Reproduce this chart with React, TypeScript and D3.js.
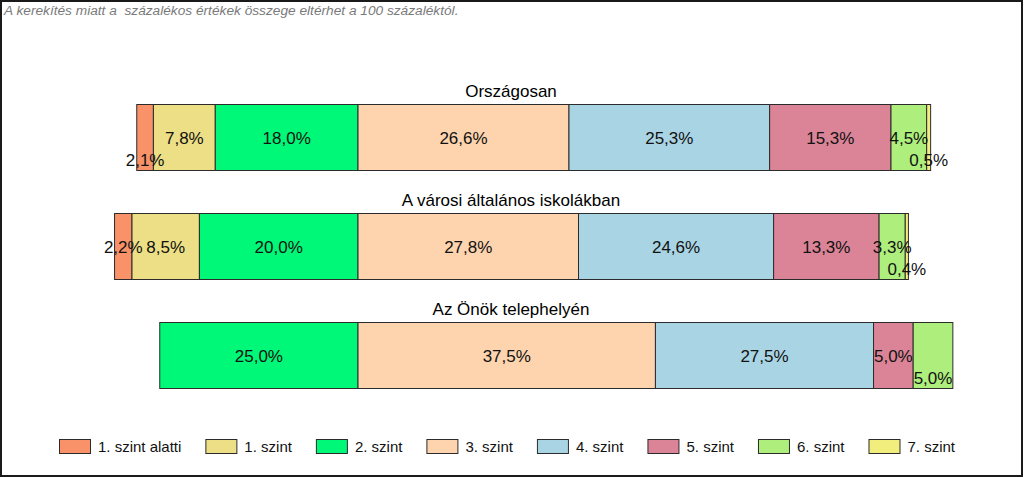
import React from "react";
import * as d3 from "d3";

const W = 1024;
const H = 478;

const categories = ["Országosan", "A városi általános iskolákban", "Az Önök telephelyén"];
const levels = ["1. szint alatti", "1. szint", "2. szint", "3. szint", "4. szint", "5. szint", "6. szint", "7. szint"];
const colors = ["#F99169", "#ECDF86", "#00F878", "#FDD4AE", "#A9D4E4", "#DB8497", "#AEEE7C", "#F2EE7E"];

const orszagos = [2.1, 7.8, 18.0, 26.6, 25.3, 15.3, 4.5, 0.5];
const varosi = [2.2, 8.5, 20.0, 27.8, 24.6, 13.3, 3.3, 0.4];
const telephely = [0, 0, 25.0, 37.5, 27.5, 5.0, 5.0, 0];
const seriesByCategory = [orszagos, varosi, telephely];

const note = "A kerekítés miatt a  százalékos értékek összege eltérhet a 100 százaléktól.";

const FONT = "'Liberation Sans', Arial, sans-serif";
const LABEL_SIZE = 17;

let ctx: CanvasRenderingContext2D | null = null;
function measure(text: string, size: number): number {
  if (!ctx && typeof document !== "undefined") {
    ctx = document.createElement("canvas").getContext("2d");
  }
  if (!ctx) return text.length * size * 0.55;
  ctx.font = `${size}px ${FONT}`;
  return ctx.measureText(text).width;
}

const fmt = (v: number) => v.toFixed(1).replace(".", ",") + "%";

export default function App() {
  // diverging around the 2./3. szint boundary
  const x = d3.scaleLinear().domain([-30, 80]).range([120.1, 992.5]);
  const y = d3.scaleBand<string>().domain(categories).range([83, 410]).paddingInner(0.66).paddingOuter(0.33);
  const bh = 66;

  const bars = categories.map((cat, ci) => {
    const vals = seriesByCategory[ci];
    const leftSum = vals[0] + vals[1] + vals[2];
    let start = -leftSum;
    const segs = vals.map((v, i) => {
      const s = { i, v, x0: start, x1: start + v };
      start += v;
      return s;
    });
    const cy = (y(cat) as number) + y.bandwidth() / 2;
    // label placement: collisions push smaller one to lower row
    const labels = segs
      .filter((s) => s.v > 0)
      .map((s) => {
        const cx = (x(s.x0) + x(s.x1)) / 2;
        const w = measure(fmt(s.v), LABEL_SIZE);
        return { ...s, cx, w, row: 0 };
      });
    for (let k = 1; k < labels.length; k++) {
      const a = labels[k - 1];
      const b = labels[k];
      if (a.row !== 0) continue;
      const gap = b.cx - b.w / 2 - (a.cx + a.w / 2);
      if (gap < 2.5) {
        if (a.v < b.v) a.row = 1;
        else b.row = 1;
      }
    }
    return { cat, segs, cy, labels };
  });

  // legend layout
  const swW = 31;
  const swH = 14;
  const legendItems = levels.map((l) => ({ l, w: swW + 8 + measure(l, 15) + 24 }));
  let lx = 59;
  const legendPos = legendItems.map((d) => {
    const p = lx;
    lx += d.w;
    return p;
  });

  return (
    <svg width={W} height={H} style={{ position: "absolute", left: 0, top: 0, background: "#fff" }} fontFamily={FONT}>
      <rect x={1} y={1} width={W - 3} height={H - 3} fill="#fff" stroke="#1a1a1a" strokeWidth={2} />
      <text x={4} y={15} fontSize={13.7} fontStyle="italic" fill="#7a7a7a" style={{ whiteSpace: "pre" }}>
        {note}
      </text>
      {bars.map((b) => (
        <g key={b.cat}>
          <text x={511} y={b.cy - bh / 2 - 8} textAnchor="middle" fontSize={17} fill="#000">
            {b.cat}
          </text>
          {b.segs
            .filter((s) => s.v > 0)
            .map((s) => (
              <rect
                key={s.i}
                x={x(s.x0)}
                y={b.cy - bh / 2}
                width={x(s.x1) - x(s.x0)}
                height={bh}
                fill={colors[s.i]}
                stroke="#2b2b2b"
                strokeWidth={1}
              />
            ))}
          {b.labels.map((lb) => (
            <text
              key={"l" + lb.i}
              x={lb.cx}
              y={b.cy + (lb.row === 0 ? 6 : 28)}
              textAnchor="middle"
              fontSize={LABEL_SIZE}
              fill="#111"
            >
              {fmt(lb.v)}
            </text>
          ))}
        </g>
      ))}
      {legendItems.map((d, i) => (
        <g key={d.l} transform={`translate(${legendPos[i]},439)`}>
          <rect x={0.5} y={0.5} width={swW} height={swH} fill={colors[i]} stroke="#2b2b2b" strokeWidth={1} />
          <text x={swW + 8} y={13} fontSize={15} fill="#111">
            {d.l}
          </text>
        </g>
      ))}
    </svg>
  );
}
